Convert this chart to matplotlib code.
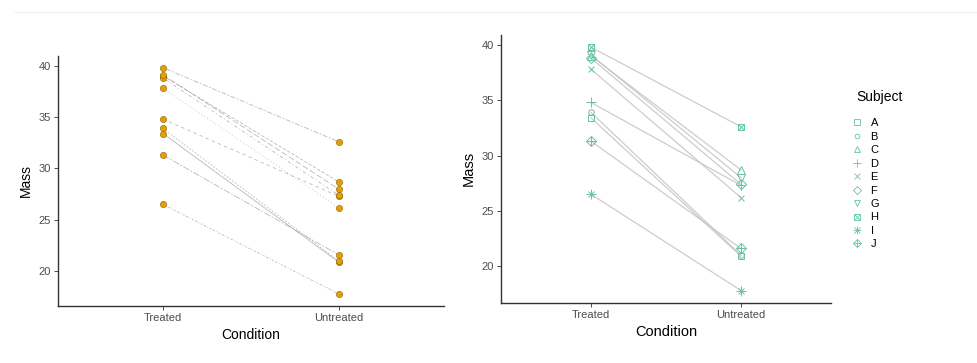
import matplotlib.pyplot as plt
from matplotlib.lines import Line2D
from matplotlib.legend_handler import HandlerTuple

plt.rcParams['font.family'] = ['Liberation Sans', 'DejaVu Sans']

# data
subjects = ['A', 'B', 'C', 'D', 'E', 'F', 'G', 'H', 'I', 'J']
conditions = ['Treated', 'Untreated']
treated = [33.4, 33.9, 39.0, 34.8, 37.8, 38.8, 39.1, 39.8, 26.5, 31.3]
untreated = [20.9, 21.0, 28.7, 27.3, 26.2, 27.4, 28.0, 32.6, 17.8, 21.6]

# ggplot-like shapes 0..9 (some are two overlaid matplotlib markers)
shapes = [['s'], ['o'], ['^'], ['+'], ['x'], ['D'], ['v'], ['s', 'x'], ['+', 'x'], ['D', '+']]
sizes = {'s': 5, 'o': 4, '^': 5.5, '+': 6.5, 'x': 5, 'D': 4.8, 'v': 5.5}
linestyles = ['-', (0, (2, 2)), (0, (4, 2)), (0, (4, 4)), (0, (1, 3)),
              (0, (1, 3, 4, 3)), (0, (7, 3)), (0, (2, 2, 6, 2)), (0, (1, 2, 2, 2, 3, 2)), (0, (8, 2, 2, 2))]

teal = '#66c2a5'
orange = '#e69f00'
x = [1, 2]

fig = plt.figure(figsize=(9.78, 3.63), dpi=100)
ax1 = fig.add_axes([0.0589, 0.1579, 0.3951, 0.6887])
ax2 = fig.add_axes([0.5123, 0.1661, 0.3374, 0.7375])

# left panel: dashed lines + orange points
for i in range(len(subjects)):
    ax1.plot(x, [treated[i], untreated[i]], color='#a8a8a8', lw=0.6,
             linestyle=linestyles[i], alpha=0.8, zorder=1)
    ax1.plot(x, [treated[i], untreated[i]], linestyle='none', marker='o', ms=4.5,
             mfc=orange, mec='#8a6000', mew=0.4, zorder=3)

# right panel: solid lines + shaped points
for i in range(len(subjects)):
    ax2.plot(x, [treated[i], untreated[i]], color='#c4c4c4', lw=0.9, alpha=0.85, zorder=1)
    for m in shapes[i]:
        ax2.plot(x, [treated[i], untreated[i]], linestyle='none', marker=m,
                 ms=sizes[m], mfc='none', mec=teal, mew=0.7, zorder=3)

for ax, tsize, lsize in [(ax1, 8, 10), (ax2, 8, 10.5)]:
    ax.set_xlim(0.4, 2.6)
    ax.set_ylim(16.7, 40.9)
    ax.set_xticks(x)
    ax.set_xticklabels(conditions)
    ax.set_yticks([20, 25, 30, 35, 40])
    ax.tick_params(labelsize=tsize, labelcolor='#4d4d4d', color='#333333',
                   length=3, width=0.6, pad=2)
    for s in ['top', 'right']:
        ax.spines[s].set_visible(False)
    for s in ['left', 'bottom']:
        ax.spines[s].set_color('#333333')
        ax.spines[s].set_linewidth(1.0)
    ax.set_xlabel('Condition', fontsize=lsize, labelpad=4)
    ax.set_ylabel('Mass', fontsize=lsize, labelpad=4)
ax1.set_ylim(16.65, 40.97)

# legend for subjects (overlaid parts for the combined shapes)
handles = []
for i in range(len(subjects)):
    parts = tuple(Line2D([], [], linestyle='none', marker=m, ms=sizes[m] * 0.85,
                         mfc='none', mec=teal, mew=0.6) for m in shapes[i])
    handles.append(parts)
fig.text(0.876, 0.733, 'Subject', fontsize=10, ha='left', va='center')
leg = fig.legend(handles, subjects, loc='upper left',
                 bbox_to_anchor=(0.872, 0.674), frameon=False, fontsize=8,
                 handlelength=0.8, handletextpad=0.8,
                 labelspacing=0.31, borderaxespad=0, borderpad=0,
                 handler_map={tuple: HandlerTuple(ndivide=1, pad=0)})

# faint separator line at the top of the picture
fig.add_artist(Line2D([0.015, 1.0], [0.967, 0.967], color='#f0f0f0', lw=1.0))

fig.savefig('out.png', dpi=100)
